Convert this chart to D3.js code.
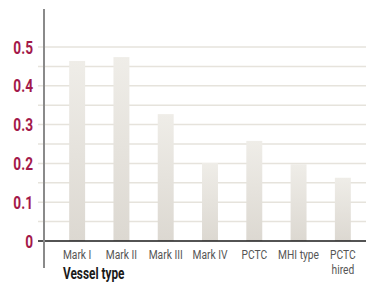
<!DOCTYPE html>
<html><head><meta charset="utf-8">
<script src="https://cdn.jsdelivr.net/npm/d3@7"></script>
<style>
html,body{margin:0;padding:0;background:#fff;}
svg{display:block;}
</style></head>
<body>
<svg id="c" width="366" height="282"></svg>
<script>
const categories = [["Mark I"],["Mark II"],["Mark III"],["Mark IV"],["PCTC"],["MHI type"],["PCTC","hired"]];
const values = [0.464, 0.474, 0.327, 0.201, 0.258, 0.198, 0.163];
const tickLabels = [0, 0.1, 0.2, 0.3, 0.4, 0.5];
const gridValues = [0.05,0.1,0.15,0.2,0.25,0.3,0.35,0.4,0.45,0.5];
const axisTitle = "Vessel type";

const svg = d3.select("#c");
const font = "Roboto, sans-serif";
const x = d3.scaleBand().domain(d3.range(values.length)).range([55,365]).paddingInner(0.64).paddingOuter(0.32);
const y = d3.scaleLinear().domain([0,0.5]).range([241,47]);

const defs = svg.append("defs");
const g = defs.append("linearGradient").attr("id","bg").attr("x1",0).attr("y1",0).attr("x2",0).attr("y2",1);
g.append("stop").attr("offset","0%").attr("stop-color","#efede8");
g.append("stop").attr("offset","100%").attr("stop-color","#dcd8d1");

// grid
svg.append("g").selectAll("line").data(gridValues).join("line")
  .attr("x1",38).attr("x2",366).attr("y1",d=>y(d)).attr("y2",d=>y(d))
  .attr("stroke","#e6e3dc").attr("stroke-width",1.5);

// bars
svg.append("g").selectAll("rect").data(values).join("rect")
  .attr("x",(d,i)=>x(i)).attr("width",x.bandwidth())
  .attr("y",d=>y(d)).attr("height",d=>y(0)-y(d))
  .attr("fill","url(#bg)");

// zero line
svg.append("line").attr("x1",38).attr("x2",366).attr("y1",y(0)).attr("y2",y(0))
  .attr("stroke","#1a1a1a").attr("stroke-width",1.3);

// vertical axis
svg.append("line").attr("x1",44).attr("x2",44).attr("y1",9).attr("y2",268)
  .attr("stroke","#8a8a8a").attr("stroke-width",2);

// y tick labels
svg.append("g").selectAll("text").data(tickLabels).join("text")
  .attr("transform",d=>`translate(33,${y(d)}) scale(0.74,1)`)
  .attr("dy","0.36em")
  .attr("text-anchor","end").attr("font-family",font).attr("font-weight","bold")
  .attr("font-size",18.5).attr("fill","#a3194a")
  .text(d=>d===0?"0":d3.format(".1f")(d));

// category labels
const labelG = svg.append("g");
categories.forEach((lines,i)=>{
  lines.forEach((s,k)=>{
    labelG.append("text")
      .attr("transform",`translate(${x(i)+x.bandwidth()/2},${259+k*14.5}) scale(0.76,1)`)
      .attr("text-anchor","middle").attr("font-family",font)
      .attr("font-size",13.5).attr("fill","#555").text(s);
  });
});

svg.append("text").attr("transform","translate(63,279) scale(0.74,1)").attr("font-family",font)
  .attr("font-weight","bold").attr("font-size",16).attr("fill","#1a1a1a").text(axisTitle);
</script>
</body></html>
